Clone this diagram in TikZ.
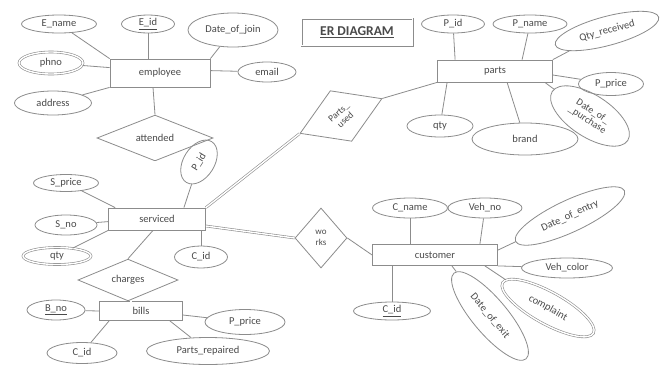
\documentclass[tikz,border=0pt]{standalone}
\usepackage{fontspec}
\setmainfont{Carlito}
\usetikzlibrary{shapes.geometric}
\definecolor{lnc}{HTML}{8C8C8C}
\definecolor{txt}{HTML}{4A4A4A}
\begin{document}
\begin{tikzpicture}[x=1pt,y=-1pt,
 every node/.style={font=\fontsize{10.5}{11}\selectfont, text=txt},
 ent/.style={draw=lnc, rectangle, inner sep=0pt, line width=0.8pt},
 att/.style={draw=lnc, ellipse, inner sep=0pt, line width=0.8pt},
 matt/.style={att, double=white, double distance=1.4pt, line width=0.6pt},
 rel/.style={draw=lnc, diamond, inner sep=0pt, line width=0.8pt},
 ln/.style={draw=lnc, line width=0.8pt},
 dln/.style={draw=lnc, double=white, double distance=1.4pt, line width=0.6pt}]
\useasboundingbox[fill=white] (0,0) rectangle (665,365);

% title
\node[draw=lnc, double=white, double distance=1pt, line width=0.5pt, minimum width=111pt, minimum height=27pt, inner sep=0pt, font=\fontsize{13.5}{14}\selectfont\bfseries] (title) at (357,32) {\underline{ER DIAGRAM}};

% employee
\node[ent, minimum width=100pt, minimum height=28pt] (employee) at (160,73) {employee};
\node[att, minimum width=75pt, minimum height=18pt] (ename) at (59,24) {E\_name};
\node[att, minimum width=53pt, minimum height=18pt] (eid) at (148,24) {\underline{E\_id}};
\node[att, minimum width=90pt, minimum height=34pt] (doj) at (233,30) {Date\_of\_join};
\node[att, minimum width=58pt, minimum height=20pt] (email) at (267,72) {email};
\node[matt, minimum width=64pt, minimum height=22pt] (phno) at (51,63) {phno};
\node[att, minimum width=77pt, minimum height=24pt] (address) at (53,103) {address};
\draw[ln] (ename) -- (employee.north west);
\draw[ln] (eid) -- (eid |- employee.north);
\draw[ln] (doj) -- (employee.north east);
\draw[ln] (email) -- ([yshift=-12pt]employee.north east);
\draw[ln] (phno) -- ([yshift=-9pt]employee.north west);
\draw[ln] (address) -- (employee.south west);

% attended
\node[rel, minimum width=116pt, minimum height=37pt] (attended) at (155,138) {attended};
\draw[ln] ([xshift=-7pt]employee.south) -- (attended.north);

% serviced
\node[ent, minimum width=97pt, minimum height=22pt] (serviced) at (157,219) {serviced};
\draw[dln] (attended.south) -- (attended.south |- serviced.north);
\node[att, minimum width=48pt, minimum height=31pt, rotate=58] (pid2) at (199,162) {P\_id};
\node[att, minimum width=65pt, minimum height=17pt] (sprice) at (66,183) {S\_price};
\node[att, minimum width=62pt, minimum height=20pt] (sno) at (66,225) {S\_no};
\node[matt, minimum width=68pt, minimum height=17pt] (qty2) at (57,256) {qty};
\node[att, minimum width=53pt, minimum height=22pt] (cid2) at (201,257) {C\_id};
\draw[ln] (pid2) -- ([xshift=-22pt]serviced.north east);
\draw[ln] (sprice) -- ([xshift=7pt]serviced.north west);
\draw[ln] (sno) -- ([yshift=-14pt]serviced.north west);
\draw[ln] (qty2) -- (serviced.south west);
\draw[ln] (cid2) -- (cid2 |- serviced.south);

% charges & bills
\node[rel, minimum width=100pt, minimum height=26pt] (charges) at (128,280) {charges};
\draw[ln] ([xshift=-4pt]serviced.south) -- (charges.north);
\node[ent, minimum width=83pt, minimum height=19pt] (bills) at (141,311) {bills};
\draw[dln] ([xshift=3pt]charges.south) -- ([xshift=3pt]charges.south |- bills.north);
\node[att, minimum width=58pt, minimum height=20pt] (bno) at (56,310) {\underline{B\_no}};
\node[att, minimum width=80pt, minimum height=25pt] (pprice2) at (245,322) {P\_price};
\node[att, minimum width=70pt, minimum height=21pt] (cid3) at (82,353) {C\_id};
\node[att, minimum width=123pt, minimum height=27pt] (prep) at (208,351) {Parts\_repaired};
\draw[ln] (bno) -- (bills.west);
\draw[ln] (pprice2) -- ([yshift=-4pt]bills.east);
\draw[ln] (cid3) -- ([xshift=10pt]bills.south west);
\draw[ln] (prep) -- ([xshift=-13pt]bills.south east);

% parts
\node[ent, minimum width=115pt, minimum height=22pt] (parts) at (495,71) {parts};
\node[att, minimum width=63pt, minimum height=18pt] (pid) at (453,24) {P\_id};
\node[att, minimum width=74pt, minimum height=18pt] (pname) at (530,24) {P\_name};
\node[att, minimum width=107pt, minimum height=29pt, rotate=15] (qtyrec) at (607,31) {Qty\_received};
\node[att, minimum width=65pt, minimum height=23pt] (pprice) at (611,84) {P\_price};
\node[att, minimum width=90pt, minimum height=42pt, rotate=-33, align=center, font=\fontsize{10}{10}\selectfont] (dop) at (590,116) {Date\_of\_\\\_purchase};
\node[att, minimum width=66pt, minimum height=22pt] (qty) at (440,126) {qty};
\node[att, minimum width=106pt, minimum height=32pt] (brand) at (525,139) {brand};
\draw[ln] (pid) -- ([xshift=18pt]parts.north west);
\draw[ln] (pname) -- ([xshift=85pt]parts.north west);
\draw[ln] (qtyrec) -- (parts.north east);
\draw[ln] (pprice) -- ([yshift=-4pt]parts.east);
\draw[ln] (dop) -- ([xshift=-8pt]parts.south east);
\draw[ln] (qty) -- ([xshift=10pt]parts.south west);
\draw[ln] (brand) -- ([xshift=70pt]parts.south west);

% parts used
\node[rel, minimum width=89pt, minimum height=55pt, rotate=23] (pused) at (341,116) {};
\node[rotate=42, align=center, font=\fontsize{9.5}{10}\selectfont] (pusedt) at (342,116) {Parts\_\\used};
\draw[ln] (parts.south west) -- (pused.east);
\draw[dln] (pused.west) -- (serviced.north east);

% works & customer
\node[rel, minimum width=52pt, minimum height=60pt, align=center, font=\fontsize{9}{11}\selectfont] (works) at (321,238) {wo\\rks};
\draw[dln] ([yshift=-7pt]serviced.east) -- (works.west);
\node[ent, minimum width=125pt, minimum height=21pt] (customer) at (435,255) {customer};
\draw[ln] (works.east) -- (customer.west);
\node[att, minimum width=75pt, minimum height=20pt] (cname) at (410,208) {C\_name};
\node[att, minimum width=74pt, minimum height=20pt] (vehno) at (485,208) {Veh\_no};
\node[att, minimum width=120pt, minimum height=32pt, rotate=25] (doe) at (570,216) {Date\_of\_entry};
\node[att, minimum width=91pt, minimum height=20pt] (vehcol) at (567,268) {Veh\_color};
\node[att, minimum width=112pt, minimum height=35pt, rotate=-50] (dox) at (490,316) {Date\_of\_exit};
\node[matt, minimum width=104pt, minimum height=32pt, rotate=-29] (compl) at (548,308) {complaint};
\node[att, minimum width=77pt, minimum height=18pt] (cid) at (392,311) {\underline{C\_id}};
\draw[ln] (cname) -- (cname |- customer.north);
\draw[ln] (vehno) -- ([xshift=-18pt]customer.north east);
\draw[ln] (doe) -- ([yshift=-6pt]customer.north east);
\draw[ln] (vehcol) -- (customer.south east);
\draw[ln] (dox) -- ([xshift=-46pt]customer.south east);
\draw[ln] (compl) -- ([xshift=-13pt]customer.south east);
\draw[ln] (cid) -- (cid |- customer.south);
\end{tikzpicture}
\end{document}
